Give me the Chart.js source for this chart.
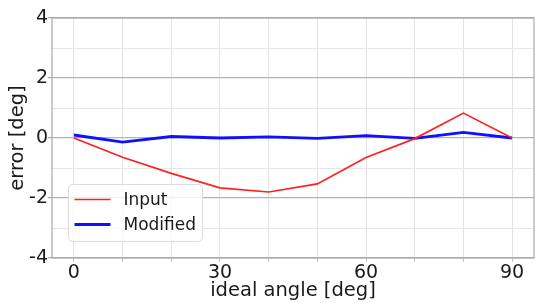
<!DOCTYPE html>
<html><head><meta charset="utf-8">
<script src="https://cdn.jsdelivr.net/npm/chart.js@4"></script>
<style>html,body{margin:0;padding:0;background:#fff;}#wrap{width:535px;height:303px;}</style>
</head><body><div id="wrap"><canvas id="c" width="535" height="303"></canvas></div>
<script>
const angles = [0,10,20,30,40,50,60,70,80,90];
const inputErr = [0.0,-0.64,-1.18,-1.66,-1.80,-1.53,-0.65,-0.02,0.83,0.0];
const modifiedErr = [0.10,-0.14,0.05,0.0,0.04,-0.01,0.08,-0.01,0.19,0.0];
const xTicks = [-4.5,0,10,20,30,40,50,60,70,80,90,94.5];
const xLabeled = [0,30,60,90];
const yTicks = [-4,-3,-2,-1,0,1,2,3,4];
const yLabeled = [-4,-2,0,2,4];
const seriesNames = ['Input','Modified'];
const seriesColors = ['#ff2020','#1010ff'];

const FONT = "'DejaVu Sans', sans-serif";

const legendPlugin = {
  id: 'innerLegend',
  afterDatasetsDraw(chart) {
    const ctx = chart.ctx, a = chart.chartArea;
    const x0 = a.left + 16.5, y0 = a.bottom - 73.5, w = 134, h = 57, r = 4;
    ctx.save();
    ctx.beginPath();
    ctx.roundRect(x0, y0, w, h, r);
    ctx.fillStyle = 'rgba(255,255,255,0.8)';
    ctx.fill();
    ctx.strokeStyle = '#dcdcdc';
    ctx.lineWidth = 1;
    ctx.stroke();
    ctx.font = '17px ' + FONT;
    ctx.textBaseline = 'middle';
    ctx.fillStyle = '#1a1a1a';
    chart.data.datasets.forEach((ds, i) => {
      const yy = y0 + 15 + i * 25;
      ctx.beginPath();
      ctx.moveTo(x0 + 6, yy);
      ctx.lineTo(x0 + 42, yy);
      ctx.strokeStyle = ds.borderColor;
      ctx.lineWidth = ds.borderWidth;
      ctx.stroke();
      ctx.fillText(ds.label, x0 + 55, yy + 1);
    });
    ctx.restore();
  }
};

const borderPlugin = {
  id: 'frame',
  beforeDatasetsDraw(chart) {
    const ctx = chart.ctx, a = chart.chartArea;
    ctx.save();
    ctx.strokeStyle = '#a8a8a8';
    ctx.lineWidth = 1.2;
    ctx.strokeRect(a.left, a.top, a.right - a.left, a.bottom - a.top);
    ctx.restore();
  }
};

new Chart(document.getElementById('c'), {
  type: 'line',
  data: {
    datasets: [
      { label: seriesNames[0], data: angles.map((x,i)=>({x, y: inputErr[i]})), borderColor: seriesColors[0], borderWidth: 1.7, pointRadius: 0, tension: 0, fill: false },
      { label: seriesNames[1], data: angles.map((x,i)=>({x, y: modifiedErr[i]})), borderColor: seriesColors[1], borderWidth: 2.8, pointRadius: 0, tension: 0, fill: false }
    ]
  },
  options: {
    responsive: false,
    animation: false,
    devicePixelRatio: 1,
    layout: { padding: { top: 18, right: 1, left: 0, bottom: 0 } },
    plugins: { legend: { display: false }, tooltip: { enabled: false } },
    scales: {
      x: {
        type: 'linear', min: -4.5, max: 94.5,
        afterBuildTicks: s => { s.ticks = xTicks.map(v => ({ value: v })); },
        afterFit: s => { s.height = 45; },
        border: { display: false },
        grid: {
          color: c => (c.tick && (c.tick.value === -4.5 || c.tick.value === 94.5)) ? 'rgba(0,0,0,0)' : '#e2e2e2',
          lineWidth: 1,
          tickLength: 4,
          tickColor: c => (c.tick && (c.tick.value === -4.5 || c.tick.value === 94.5)) ? 'rgba(0,0,0,0)' : '#c8c8c8'
        },
        ticks: {
          autoSkip: false, maxRotation: 0, padding: 0,
          color: '#1a1a1a', font: { family: FONT, size: 19 },
          callback: v => xLabeled.includes(v) ? String(v) : ''
        },
        title: { display: true, text: 'ideal angle [deg]', color: '#1a1a1a', font: { family: FONT, size: 19.5 }, padding: { top: -2, bottom: 0 } }
      },
      y: {
        type: 'linear', min: -4, max: 4,
        afterBuildTicks: s => { s.ticks = yTicks.map(v => ({ value: v })); },
        afterFit: s => { s.width = 52; },
        border: { display: false },
        grid: {
          color: c => (c.tick && yLabeled.includes(c.tick.value)) ? '#b4b4b4' : '#e6e6e6',
          lineWidth: c => (c.tick && yLabeled.includes(c.tick.value)) ? 1.2 : 1,
          tickLength: 4,
          tickColor: c => (c.tick && yLabeled.includes(c.tick.value)) ? '#a8a8a8' : 'rgba(0,0,0,0)'
        },
        ticks: {
          autoSkip: false, padding: 0,
          color: '#1a1a1a', font: { family: FONT, size: 19 },
          callback: v => yLabeled.includes(v) ? String(v) : ''
        },
        title: { display: true, text: 'error [deg]', color: '#1a1a1a', font: { family: FONT, size: 19.5 }, padding: { top: 6, bottom: 0 } }
      }
    }
  },
  plugins: [borderPlugin, legendPlugin]
});
</script></body></html>
